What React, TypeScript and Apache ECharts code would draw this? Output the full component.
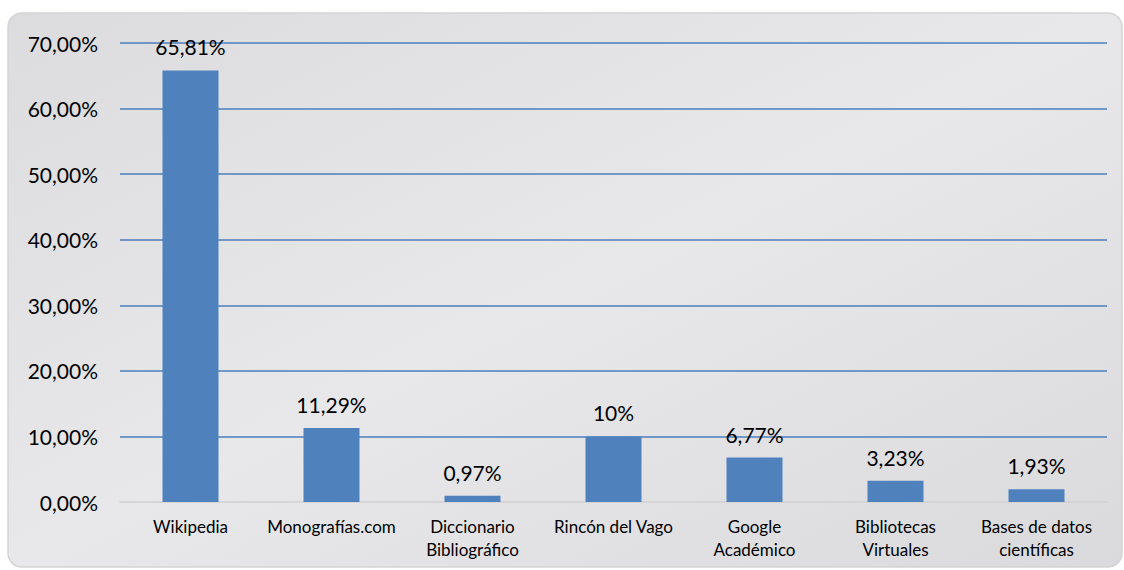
import React, { useEffect, useRef } from "react";
import * as echarts from "echarts";

const categories = [
  "Wikipedia",
  "Monografías.com",
  "Diccionario\nBibliográfico",
  "Rincón del Vago",
  "Google\nAcadémico",
  "Bibliotecas\nVirtuales",
  "Bases de datos\ncientíficas",
];
const values = [65.81, 11.29, 0.97, 10, 6.77, 3.23, 1.93];
const valueLabels = ["65,81%", "11,29%", "0,97%", "10%", "6,77%", "3,23%", "1,93%"];
const yTicks = [0, 10, 20, 30, 40, 50, 60, 70];

const FONT = "Lato, 'Open Sans', sans-serif";

export default function App() {
  const ref = useRef<HTMLDivElement>(null);
  useEffect(() => {
    if (!ref.current) return;
    const chart = echarts.init(ref.current, undefined, { renderer: "svg" });
    chart.setOption({
      animation: false,
      backgroundColor: "#ffffff",
      graphic: [
        {
          type: "rect",
          z: -10,
          shape: { x: 8, y: 13, width: 1114, height: 554, r: 14 },
          style: {
            fill: {
              type: "linear",
              x: 0,
              y: 0,
              x2: 1,
              y2: 1,
              colorStops: [
                { offset: 0, color: "#dcdcde" },
                { offset: 0.5, color: "#e8e8ea" },
                { offset: 1, color: "#dadadc" },
              ],
            },
            stroke: "#d4d4d4",
            lineWidth: 1.5,
          },
        },
      ],
      grid: { left: 120, right: 17, top: 43, bottom: 68, containLabel: false },
      xAxis: {
        type: "category",
        data: categories,
        axisLine: { show: true, lineStyle: { color: "#d0d0d0", width: 1.5 } },
        axisTick: { show: false },
        axisLabel: {
          color: "#000000",
          fontFamily: FONT,
          fontSize: 17,
          lineHeight: 23,
          margin: 13,
          interval: 0,
        },
      },
      yAxis: {
        type: "value",
        min: 0,
        max: 70,
        interval: 10,
        axisLine: { show: false },
        axisTick: { show: false },
        splitLine: {
          lineStyle: { color: "#4a7ebb", width: 1.5 },
          showMinLine: false,
        },
        axisLabel: {
          color: "#000000",
          fontFamily: FONT,
          fontSize: 21,
          margin: 22,
          formatter: (v: number) =>
            yTicks.includes(v) ? v.toFixed(2).replace(".", ",") + "%" : "",
        },
      },
      series: [
        {
          type: "bar",
          data: values,
          barWidth: 56,
          itemStyle: { color: "#4f81bd" },
          label: {
            show: true,
            position: "top",
            distance: 13,
            color: "#000000",
            fontFamily: FONT,
            fontSize: 21,
            formatter: (p: any) => valueLabels[p.dataIndex],
          },
        },
      ],
    });
    return () => chart.dispose();
  }, []);
  return (
    <div
      ref={ref}
      style={{ position: "fixed", left: 0, top: 0, width: 1124, height: 570 }}
    />
  );
}
